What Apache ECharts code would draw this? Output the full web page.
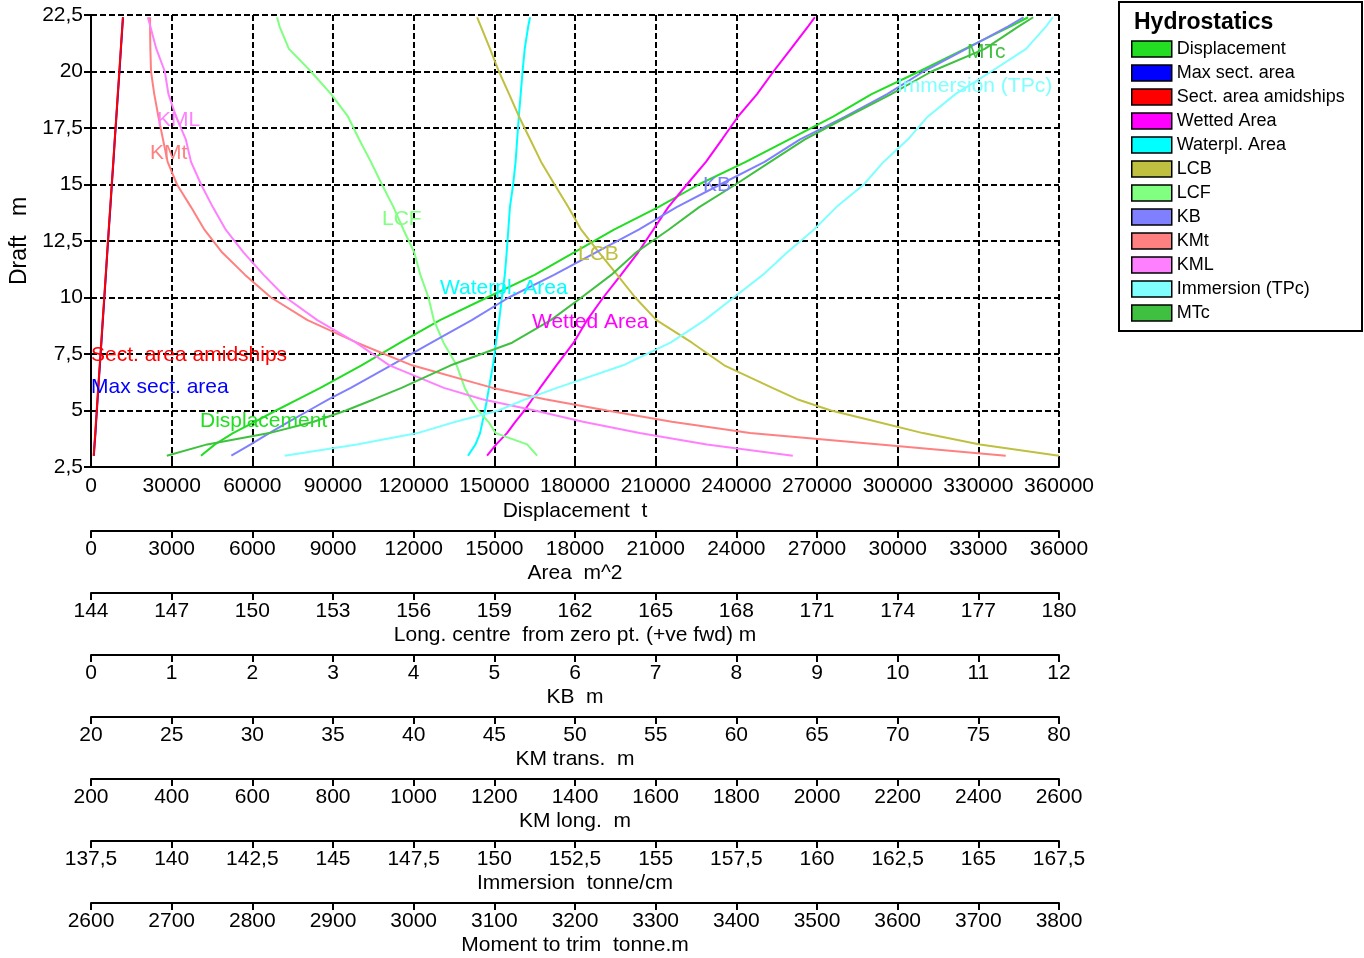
<!DOCTYPE html>
<html><head><meta charset="utf-8">
<script src="https://cdn.jsdelivr.net/npm/echarts@6.0.0/dist/echarts.min.js"></script>
<style>html,body{margin:0;padding:0;background:#fff}#c{width:1364px;height:958px}</style>
</head><body><div id="c"></div>
<script>
// Draft values (m) at which every hydrostatic quantity is read
const drafts = [3, 3.5, 4, 4.5, 5, 5.5, 6, 7, 8, 9, 10, 11, 12, 13, 14, 15, 16, 17, 18, 19, 20, 21, 22, 22.4];

// Series values (one per draft)
const displacement = [40900, 46100, 52800, 60900, 68800, 77100, 85300, 100600, 115000, 129800, 147300, 165000, 179700, 194500, 211000, 226000, 243500, 259700, 276000, 290300, 308000, 325000, 342000, 348500];
const maxSectArea = [106, 134, 166, 191, 219, 246, 272, 331, 386, 441, 498, 553, 607, 663, 721, 776, 833, 887, 945, 1001, 1059, 1113, 1169, 1191];
const sectAreaAmid = [100, 128, 158, 184, 213, 240, 268, 324, 381, 435, 492, 548, 603, 658, 715, 770, 828, 883, 940, 995, 1053, 1108, 1163, 1186];
const wettedArea = [14730, 15070, 15470, 15780, 16120, 16410, 16700, 17310, 17950, 18450, 19050, 19710, 20350, 20910, 21470, 22160, 22870, 23470, 24060, 24770, 25380, 26030, 26670, 26920];
const waterplArea = [14020, 14300, 14470, 14560, 14650, 14730, 14800, 14950, 15060, 15180, 15280, 15390, 15460, 15520, 15580, 15700, 15790, 15850, 15910, 15980, 16050, 16130, 16260, 16330];
const lcb = [180.0, 177.06, 174.94, 173.23, 171.52, 170.26, 169.34, 167.55, 166.35, 165.03, 164.24, 163.57, 162.89, 162.23, 161.75, 161.24, 160.74, 160.33, 159.92, 159.55, 159.17, 158.84, 158.5, 158.36];
const lcf = [160.59, 160.22, 159.05, 158.78, 158.4, 158.13, 157.9, 157.6, 157.11, 156.75, 156.55, 156.25, 156.02, 155.62, 155.25, 154.82, 154.41, 153.97, 153.56, 152.93, 152.18, 151.36, 151.01, 150.92];
const kb = [1.74, 1.98, 2.21, 2.45, 2.70, 2.95, 3.22, 3.72, 4.22, 4.72, 5.18, 5.74, 6.26, 6.79, 7.26, 7.80, 8.35, 8.79, 9.35, 9.87, 10.32, 10.85, 11.37, 11.56];
const kmt = [76.7, 68.9, 60.85, 56.0, 51.98, 48.14, 44.9, 39.9, 36.49, 33.42, 31.16, 29.55, 28.12, 27.03, 26.2, 25.33, 24.75, 24.46, 24.18, 23.92, 23.72, 23.68, 23.66, 23.66];
const kml = [1940, 1727, 1560, 1420, 1300, 1170, 1075, 940, 857, 761, 683, 628, 578, 534, 502, 473, 448, 435, 411, 392, 383, 362, 347, 341];
const immersion = [143.5, 145.74, 147.62, 148.8, 150.13, 150.97, 151.94, 153.99, 155.46, 156.52, 157.42, 158.32, 159.08, 159.9, 160.6, 161.45, 162.06, 162.82, 163.43, 164.29, 165.4, 166.48, 167.1, 167.31];
const mtc = [2694, 2744, 2821, 2876, 2916, 2951, 2985, 3046, 3122, 3170, 3208, 3245, 3276, 3316, 3354, 3399, 3442, 3485, 3538, 3592, 3642, 3708, 3750, 3768];

// Axes (tick ranges)
const axisNames = ['Displacement  t', 'Area  m^2', 'Long. centre  from zero pt. (+ve fwd) m', 'KB  m', 'KM trans.  m', 'KM long.  m', 'Immersion  tonne/cm', 'Moment to trim  tonne.m'];
const axisMin = [0, 0, 144, 0, 20, 200, 137.5, 2600];
const axisMax = [360000, 36000, 180, 12, 80, 2600, 167.5, 3800];
const axisStep = [30000, 3000, 3, 1, 5, 200, 2.5, 100];
const draftMin = 2.5, draftMax = 22.5, draftStep = 2.5;

const seriesNames = ['Displacement', 'Max sect. area', 'Sect. area amidships', 'Wetted Area', 'Waterpl. Area', 'LCB', 'LCF', 'KB', 'KMt', 'KML', 'Immersion (TPc)', 'MTc'];
const seriesValues = [displacement, maxSectArea, sectAreaAmid, wettedArea, waterplArea, lcb, lcf, kb, kmt, kml, immersion, mtc];
const seriesAxis = [0, 1, 1, 1, 1, 2, 2, 3, 4, 5, 6, 7];
const seriesColors = ['#22dd22', '#0000ff', '#ff0000', '#ff00ff', '#00ffff', '#c0c040', '#80ff80', '#8080ff', '#ff8080', '#ff80ff', '#80ffff', '#40c040'];

const FONT = 'Liberation Sans, Arial, sans-serif';
const comma = v => String(v).replace('.', ',');

const gridL = 91, gridT = 15, gridW = 968, gridH = 452;
const block = 62;

const xAxes = axisNames.map((name, i) => ({
  type: 'value', gridIndex: 0, position: 'bottom',
  offset: i === 0 ? 0 : 2 + block * i,
  min: axisMin[i], max: axisMax[i], interval: axisStep[i],
  name: name, nameLocation: 'middle', nameGap: i === 0 ? 34 : 32,
  nameTextStyle: { color: '#000', fontSize: 21, fontFamily: FONT },
  axisLine: { show: true, onZero: false, lineStyle: { color: '#000', width: 2 } },
  axisTick: { show: true, inside: i === 0, length: 7, lineStyle: { color: '#000', width: 2 } },
  axisLabel: { show: true, color: '#000', fontSize: 21, fontFamily: FONT, margin: i === 0 ? 9 : 8,
    showMinLabel: true, showMaxLabel: true, formatter: comma },
  splitLine: { show: i === 0, lineStyle: { color: '#000', width: 2, type: [6, 3] } }
}));

const series = seriesNames.map((n, i) => ({
  name: n, type: 'line', xAxisIndex: seriesAxis[i], yAxisIndex: 0,
  data: drafts.map((d, j) => [seriesValues[i][j], d]),
  symbol: 'none', smooth: false, color: seriesColors[i],
  itemStyle: { color: seriesColors[i] },
  lineStyle: { color: seriesColors[i], width: 2 },
  emphasis: { disabled: true }
}));

// inline series captions [text, left x, centre y, colour]
const captions = [
  ['KML', 157, 120, '#ff80ff'], ['KMt', 150, 153, '#ff8080'], ['LCF', 382, 219, '#80ff80'],
  ['Waterpl. Area', 440, 288, '#00ffff'], ['LCB', 578, 254, '#c0c040'], ['Wetted Area', 532, 322, '#ff00ff'],
  ['KB', 703, 185, '#8080ff'], ['MTc', 967, 52, '#40c040'], ['Immersion (TPc)', 897, 86, '#80ffff'],
  ['Sect. area amidships', 91, 355, '#ff0000'], ['Max sect. area', 91, 387, '#0000ff'], ['Displacement', 200, 421, '#22dd22']
];

const graphics = [
  { type: 'rect', z: 0, shape: { x: 1119, y: 2, width: 243, height: 329 }, style: { fill: '#fff', stroke: '#000', lineWidth: 2 } },
  { type: 'text', z: 10, x: 1134, y: 23, style: { text: 'Hydrostatics', fill: '#000', font: 'bold 23px ' + FONT, align: 'left', verticalAlign: 'middle' } }
].concat(captions.map(c => ({
  type: 'text', z: 10, x: c[1], y: c[2],
  style: { text: c[0], fill: c[3], font: '21px ' + FONT, align: 'left', verticalAlign: 'middle' }
})));

const chart = echarts.init(document.getElementById('c'), null, { renderer: 'canvas' });
chart.setOption({
  animation: false,
  backgroundColor: '#fff',
  grid: { left: gridL, top: gridT, width: gridW, height: gridH, containLabel: false },
  xAxis: xAxes,
  yAxis: [{
    type: 'value', min: draftMin, max: draftMax, interval: draftStep,
    name: 'Draft   m', nameLocation: 'middle', nameGap: 56,
    nameTextStyle: { color: '#000', fontSize: 23, fontFamily: FONT },
    axisLine: { show: true, onZero: false, lineStyle: { color: '#000', width: 2 } },
    axisTick: { show: true, inside: false, length: 7, lineStyle: { color: '#000', width: 2 } },
    axisLabel: { color: '#000', fontSize: 21, fontFamily: FONT, margin: 8, formatter: comma, showMinLabel: true, showMaxLabel: true },
    splitLine: { show: true, lineStyle: { color: '#000', width: 2, type: [6, 3] } }
  }],
  legend: {
    orient: 'vertical', left: 1126, top: 35, itemWidth: 40, itemHeight: 16, itemGap: 6,
    icon: 'rect', selectedMode: false, data: seriesNames,
    itemStyle: { borderColor: '#000', borderWidth: 1.5 },
    textStyle: { color: '#000', fontSize: 18, fontFamily: FONT }
  },
  graphic: graphics,
  series: series
});
</script>
</body></html>
